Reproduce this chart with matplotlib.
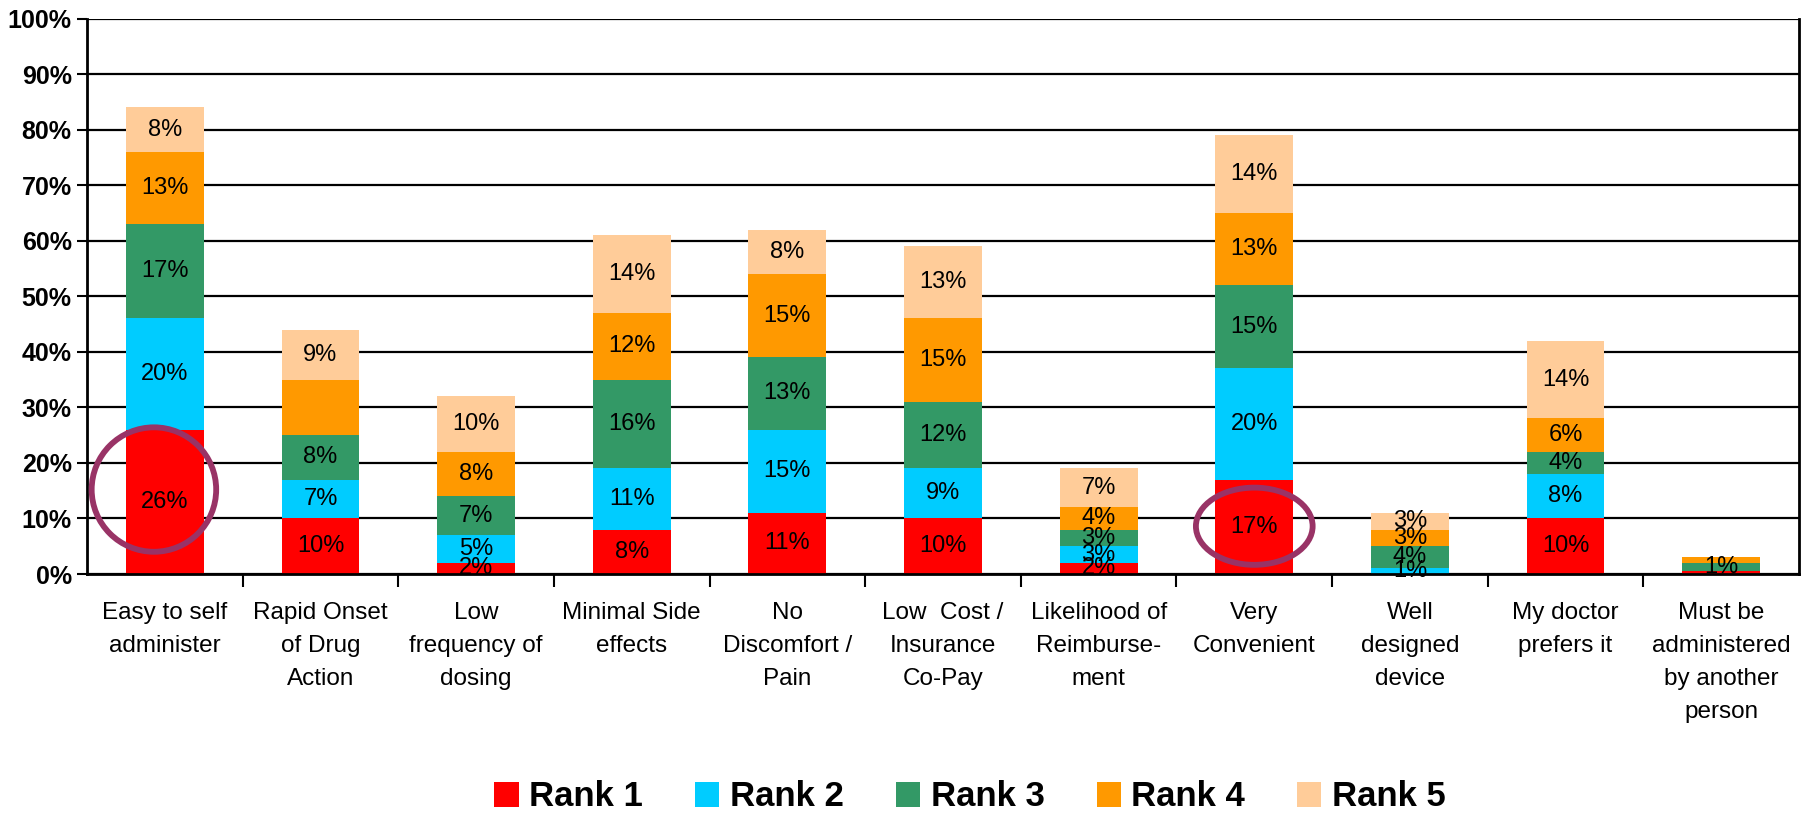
import matplotlib
matplotlib.use("Agg")
import matplotlib.pyplot as plt
from matplotlib.patches import Ellipse, Patch
import numpy as np

categories = ["Easy to self\nadminister", "Rapid Onset\nof Drug\nAction", "Low\nfrequency of\ndosing",
              "Minimal Side\neffects", "No\nDiscomfort /\nPain", "Low  Cost /\nInsurance\nCo-Pay",
              "Likelihood of\nReimburse-\nment", "Very\nConvenient", "Well\ndesigned\ndevice",
              "My doctor\nprefers it", "Must be\nadministered\nby another\nperson"]
series_names = ["Rank 1", "Rank 2", "Rank 3", "Rank 4", "Rank 5"]
rank1 = [26, 10, 2, 8, 11, 10, 2, 17, 0, 10, 0.6]
rank2 = [20, 7, 5, 11, 15, 9, 3, 20, 1, 8, 0]
rank3 = [17, 8, 7, 16, 13, 12, 3, 15, 4, 4, 1.4]
rank4 = [13, 10, 8, 12, 15, 15, 4, 13, 3, 6, 1]
rank5 = [8, 9, 10, 14, 8, 13, 7, 14, 3, 14, 0]
# (category index, rank index) of segments whose label is not shown
hidden_labels = {(1, 3), (10, 0), (10, 3)}
colors = ["#FF0000", "#00CCFF", "#339966", "#FF9900", "#FFCC99"]
yticks = [0, 10, 20, 30, 40, 50, 60, 70, 80, 90, 100]

plt.rcParams['font.family'] = ['Liberation Sans', 'DejaVu Sans']
fig = plt.figure(figsize=(18.12, 8.18), dpi=100)
ax = fig.add_axes([87/1812, 1-574/818, (1799-87)/1812, (574-18.5)/818])

data = [rank1, rank2, rank3, rank4, rank5]
x = np.arange(len(categories))
bottom = np.zeros(len(categories))
for ri, (vals, col, name) in enumerate(zip(data, colors, series_names)):
    vals = np.array(vals, dtype=float)
    ax.bar(x, vals, 0.5, bottom=bottom, color=col, label=name, zorder=2)
    for ci in range(len(categories)):
        if vals[ci] > 0 and (ci, ri) not in hidden_labels:
            ax.text(x[ci], bottom[ci] + vals[ci]/2, f"{int(round(vals[ci]))}%",
                    ha='center', va='center', fontsize=17, color='black', zorder=4)
    bottom += vals

ax.set_xlim(-0.5, len(categories) - 0.5)
ax.set_ylim(0, 100)
ax.set_yticks(yticks)
ax.set_yticklabels([f"{t}%" for t in yticks], fontsize=18, fontweight='bold')
ax.yaxis.grid(True, color='black', linewidth=1.6, zorder=1)
ax.set_axisbelow(True)
ax.tick_params(axis='y', length=7, width=1.5, direction='out', pad=4)

ax.set_xticks(x)
ax.set_xticklabels(categories, fontsize=17.5, linespacing=1.65, va='top')
ax.tick_params(axis='x', which='major', length=0, pad=20)
ax.set_xticks(np.arange(0.5, len(categories) - 0.5, 1), minor=True)
ax.tick_params(axis='x', which='minor', length=9, width=1.5, direction='out')

for side in ['left', 'bottom', 'right']:
    ax.spines[side].set_linewidth(2)
    ax.spines[side].set_color('black')
ax.spines['top'].set_visible(False)

# Highlight ellipses
ax.add_patch(Ellipse((-0.07, 15.2), 0.80, 22.4, fill=False, edgecolor='#993366', linewidth=4.2, zorder=5))
ax.add_patch(Ellipse((7.0, 8.6), 0.75, 13.9, fill=False, edgecolor='#993366', linewidth=4.2, zorder=5))

handles = [Patch(facecolor=c, edgecolor='none') for c in colors]
fig.legend(handles, series_names, loc='center', bbox_to_anchor=(970/1812, 1-797/818),
           ncol=5, frameon=False, prop={'size': 25, 'weight': 'bold'},
           handlelength=0.7, handleheight=0.7, handletextpad=0.3, columnspacing=1.5)

fig.savefig("out.png", dpi=100)
